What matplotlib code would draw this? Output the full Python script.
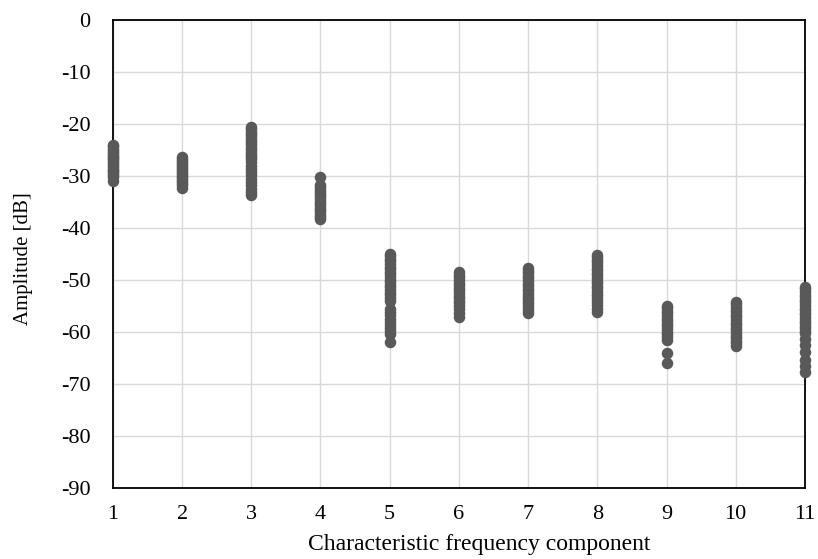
import matplotlib.pyplot as plt

# amplitude readings per characteristic frequency component (dB)
comp_1 = [-24.0, -24.3, -24.8, -25.2, -25.5, -25.9, -26.3, -26.6, -27.0, -27.3,
          -27.7, -28.0, -28.4, -28.8, -29.1, -29.5, -29.8, -30.2, -30.9]
comp_2 = [-26.4, -26.8, -27.1, -27.5, -27.9, -28.3, -28.6, -29.0, -29.4, -29.8,
          -30.1, -30.5, -30.9, -31.3, -31.7, -32.2]
comp_3 = [-20.6, -21.0, -21.5, -21.9, -22.3, -22.8, -23.2, -23.7, -24.1, -24.6,
          -25.0, -25.5, -25.9, -26.4, -26.8, -27.3, -28.1, -28.6, -29.3, -29.8,
          -30.5, -31.2, -31.8, -32.4, -33.0, -33.6]
comp_4 = [-30.2, -31.7, -32.1, -32.6, -33.0, -33.4, -33.9, -34.3, -34.8, -35.2,
          -35.6, -36.1, -36.5, -37.0, -37.4, -37.8, -38.2]
comp_5 = [-44.9, -45.4, -45.9, -46.4, -46.9, -47.4, -47.9, -48.4, -48.9, -49.4,
          -49.9, -50.4, -50.9, -51.4, -51.9, -52.4, -52.9, -53.5, -54.1, -55.6,
          -56.2, -56.8, -57.4, -58.0, -58.6, -59.2, -59.8, -60.4, -62.0]
comp_6 = [-48.5, -49.0, -49.5, -50.0, -50.5, -51.0, -51.5, -52.0, -52.5, -53.0,
          -53.5, -54.0, -54.5, -55.0, -55.6, -56.3, -57.2]
comp_7 = [-47.7, -48.2, -48.7, -49.2, -49.7, -50.2, -50.7, -51.2, -51.7, -52.2,
          -52.7, -53.2, -53.7, -54.2, -54.7, -55.2, -55.7, -56.3]
comp_8 = [-45.1, -45.6, -46.1, -46.6, -47.1, -47.6, -48.1, -48.6, -49.1, -49.6,
          -50.1, -50.6, -51.1, -51.6, -52.1, -52.6, -53.1, -53.6, -54.2, -54.8,
          -55.5, -56.2]
comp_9 = [-54.9, -55.4, -55.9, -56.4, -56.9, -57.4, -57.9, -58.4, -58.9, -59.4,
          -59.9, -60.4, -60.9, -61.5, -64.1, -66.0]
comp_10 = [-54.2, -54.7, -55.2, -55.7, -56.2, -56.7, -57.2, -57.7, -58.2, -58.7,
           -59.2, -59.7, -60.2, -60.7, -61.2, -61.7, -62.2, -62.7]
comp_11 = [-51.3, -51.8, -52.3, -52.8, -53.3, -53.8, -54.3, -54.8, -55.3, -55.8,
           -56.3, -56.8, -57.3, -57.8, -58.3, -58.8, -59.3, -59.8, -60.2, -61.3,
           -62.4, -63.8, -65.3, -66.6, -67.7]

groups = [comp_1, comp_2, comp_3, comp_4, comp_5, comp_6,
          comp_7, comp_8, comp_9, comp_10, comp_11]
x_ticks = list(range(1, 12))
y_ticks = list(range(-90, 1, 10))

plt.rcParams['font.family'] = ['Liberation Serif', 'DejaVu Serif']
plt.rcParams['axes.unicode_minus'] = False

fig = plt.figure(figsize=(8.18, 5.59), dpi=100)
ax = fig.add_axes([0.138, 0.127, 0.846, 0.837])

for comp, values in zip(x_ticks, groups):
    ax.plot([comp] * len(values), values, 'o', color='#595959', markersize=8.3,
            markeredgewidth=0, clip_on=False, zorder=3)

ax.set_xlim(1, 11)
ax.set_ylim(-90, 0)
ax.set_xticks(x_ticks)
ax.set_yticks(y_ticks)
ax.grid(True, color='#d9d9d9', linewidth=1.0)
ax.set_axisbelow(True)
ax.tick_params(length=0, labelsize=16)
ax.tick_params(axis='y', pad=16)
ax.tick_params(axis='x', pad=12)
for spine in ax.spines.values():
    spine.set_color('black')
    spine.set_linewidth(1.3)

ax.set_xlabel('Characteristic frequency component', fontsize=17)
ax.set_ylabel('Amplitude [dB]', fontsize=15)
ax.xaxis.set_label_coords(0.529, -0.099)
ax.yaxis.set_label_coords(-0.116, 0.49)

plt.savefig('out.png', dpi=100)
plt.close()
